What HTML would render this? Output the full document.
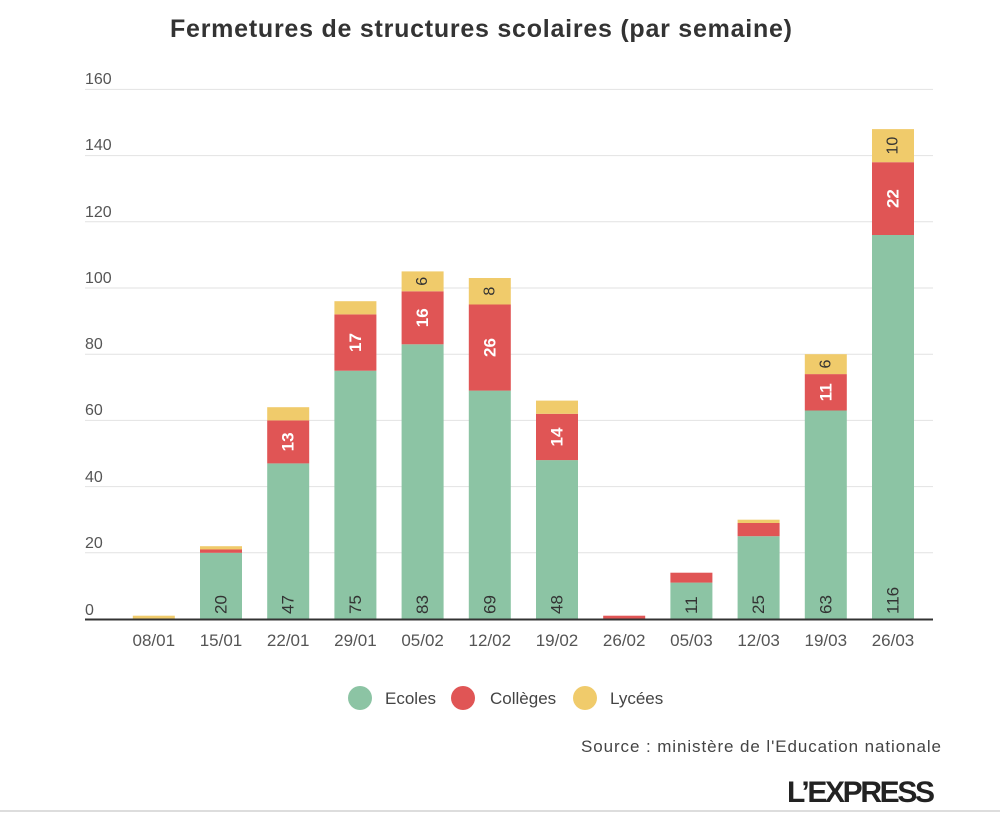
<!DOCTYPE html>
<html><head><meta charset="utf-8"><style>
body{margin:0;background:#fff;}
svg text{font-family:"Liberation Sans",sans-serif;}
</style></head><body>
<svg width="1000" height="813" viewBox="0 0 1000 813" xmlns="http://www.w3.org/2000/svg">
<rect width="1000" height="813" fill="#fff"/>
<text x="170" y="37" textLength="622" font-size="25" font-weight="bold" fill="#333">Fermetures de structures scolaires (par semaine)</text>
<g stroke="#e2e2e2" stroke-width="1">
<line x1="85" x2="933" y1="89.4" y2="89.4"/><line x1="85" x2="933" y1="155.6" y2="155.6"/>
<line x1="85" x2="933" y1="221.8" y2="221.8"/><line x1="85" x2="933" y1="288" y2="288"/>
<line x1="85" x2="933" y1="354.2" y2="354.2"/><line x1="85" x2="933" y1="420.4" y2="420.4"/>
<line x1="85" x2="933" y1="486.6" y2="486.6"/><line x1="85" x2="933" y1="552.8" y2="552.8"/>
</g>
<g font-size="16" fill="#555">
<text x="85" y="84">160</text><text x="85" y="150">140</text><text x="85" y="217">120</text>
<text x="85" y="283">100</text><text x="85" y="349">80</text><text x="85" y="415">60</text>
<text x="85" y="482">40</text><text x="85" y="548">20</text><text x="85" y="615">0</text>
</g>
<g>
<rect x="132.8" y="615.7" width="42" height="3.3" fill="#f0cb6b"/>
<rect x="200" y="552.8" width="42" height="66.2" fill="#8cc4a4"/><rect x="200" y="549.5" width="42" height="3.3" fill="#e05555"/><rect x="200" y="546.2" width="42" height="3.3" fill="#f0cb6b"/>
<rect x="267.2" y="463.4" width="42" height="155.6" fill="#8cc4a4"/><rect x="267.2" y="420.4" width="42" height="43" fill="#e05555"/><rect x="267.2" y="407.2" width="42" height="13.2" fill="#f0cb6b"/>
<rect x="334.4" y="370.7" width="42" height="248.3" fill="#8cc4a4"/><rect x="334.4" y="314.4" width="42" height="56.3" fill="#e05555"/><rect x="334.4" y="301.2" width="42" height="13.2" fill="#f0cb6b"/>
<rect x="401.6" y="344.3" width="42" height="274.7" fill="#8cc4a4"/><rect x="401.6" y="291.3" width="42" height="53" fill="#e05555"/><rect x="401.6" y="271.4" width="42" height="19.9" fill="#f0cb6b"/>
<rect x="468.8" y="390.6" width="42" height="228.4" fill="#8cc4a4"/><rect x="468.8" y="304.5" width="42" height="86.1" fill="#e05555"/><rect x="468.8" y="278" width="42" height="26.5" fill="#f0cb6b"/>
<rect x="536" y="460.1" width="42" height="158.9" fill="#8cc4a4"/><rect x="536" y="413.8" width="42" height="46.3" fill="#e05555"/><rect x="536" y="400.6" width="42" height="13.2" fill="#f0cb6b"/>
<rect x="603.2" y="615.7" width="42" height="3.3" fill="#e05555"/>
<rect x="670.4" y="582.6" width="42" height="36.4" fill="#8cc4a4"/><rect x="670.4" y="572.7" width="42" height="9.9" fill="#e05555"/>
<rect x="737.6" y="536.2" width="42" height="82.8" fill="#8cc4a4"/><rect x="737.6" y="523" width="42" height="13.2" fill="#e05555"/><rect x="737.6" y="519.7" width="42" height="3.3" fill="#f0cb6b"/>
<rect x="804.8" y="410.5" width="42" height="208.5" fill="#8cc4a4"/><rect x="804.8" y="374.1" width="42" height="36.4" fill="#e05555"/><rect x="804.8" y="354.2" width="42" height="19.9" fill="#f0cb6b"/>
<rect x="872" y="235" width="42" height="384" fill="#8cc4a4"/><rect x="872" y="162.2" width="42" height="72.8" fill="#e05555"/><rect x="872" y="129.1" width="42" height="33.1" fill="#f0cb6b"/>
</g>
<line x1="85" x2="933" y1="619.5" y2="619.5" stroke="#333" stroke-width="2"/>
<g font-size="17" fill="#333" dominant-baseline="central">
<text transform="translate(221,614) rotate(-90)">20</text>
<text transform="translate(288.2,614) rotate(-90)">47</text>
<text transform="translate(355.4,614) rotate(-90)">75</text>
<text transform="translate(422.6,614) rotate(-90)">83</text>
<text transform="translate(489.8,614) rotate(-90)">69</text>
<text transform="translate(557,614) rotate(-90)">48</text>
<text transform="translate(691.4,614) rotate(-90)">11</text>
<text transform="translate(758.6,614) rotate(-90)">25</text>
<text transform="translate(825.8,614) rotate(-90)">63</text>
<text transform="translate(893,614) rotate(-90)">116</text>
</g>
<g font-size="17" fill="#fff" text-anchor="middle" dominant-baseline="central" font-weight="bold">
<text transform="translate(288.2,441.9) rotate(-90)">13</text>
<text transform="translate(355.4,342.5) rotate(-90)">17</text>
<text transform="translate(422.6,317.8) rotate(-90)">16</text>
<text transform="translate(489.8,347.5) rotate(-90)">26</text>
<text transform="translate(557,437) rotate(-90)">14</text>
<text transform="translate(825.8,392.3) rotate(-90)">11</text>
<text transform="translate(893,198.6) rotate(-90)">22</text>
</g>
<g font-size="16" fill="#333" text-anchor="middle" dominant-baseline="central">
<text transform="translate(422.6,281.3) rotate(-90)">6</text>
<text transform="translate(489.8,291.2) rotate(-90)">8</text>
<text transform="translate(825.8,364.1) rotate(-90)">6</text>
<text transform="translate(893,145.6) rotate(-90)">10</text>
</g>
<g font-size="17" fill="#555" text-anchor="middle">
<text x="153.8" y="646">08/01</text><text x="221" y="646">15/01</text><text x="288.2" y="646">22/01</text>
<text x="355.4" y="646">29/01</text><text x="422.6" y="646">05/02</text><text x="489.8" y="646">12/02</text>
<text x="557" y="646">19/02</text><text x="624.2" y="646">26/02</text><text x="691.4" y="646">05/03</text>
<text x="758.6" y="646">12/03</text><text x="825.8" y="646">19/03</text><text x="893" y="646">26/03</text>
</g>
<circle cx="360" cy="698" r="12" fill="#8cc4a4"/><circle cx="463" cy="698" r="12" fill="#e05555"/><circle cx="585" cy="698" r="12" fill="#f0cb6b"/>
<g font-size="17" fill="#444">
<text x="385" y="704">Ecoles</text><text x="490" y="704">Collèges</text><text x="610" y="704">Lycées</text>
</g>
<text x="581" y="752" textLength="360" font-size="17" fill="#444">Source : ministère de l'Education nationale</text>
<text x="787" y="802" textLength="148" font-size="30" font-weight="bold" fill="#222">L’EXPRESS</text>
<line x1="0" x2="1000" y1="811" y2="811" stroke="#ddd" stroke-width="2"/>
</svg>
</body></html>
